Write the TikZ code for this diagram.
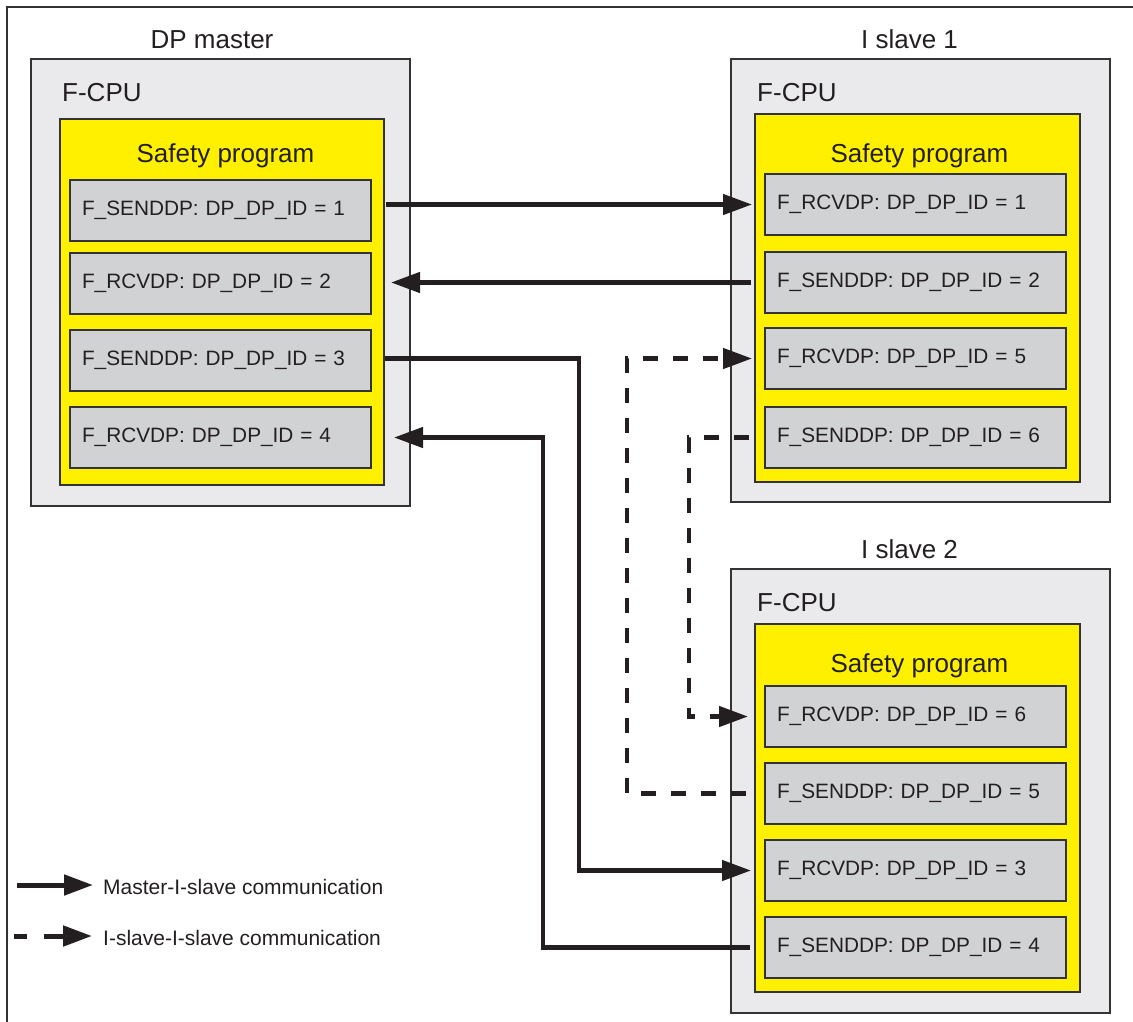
\documentclass[tikz,border=0pt]{standalone}
\usepackage{fontspec}
\setmainfont{Liberation Sans}
\usetikzlibrary{arrows.meta}
\definecolor{cpugray}{HTML}{EAEAEC}
\definecolor{progyellow}{HTML}{FFF000}
\definecolor{blockgray}{HTML}{D1D2D4}
\definecolor{edge}{HTML}{333333}
\definecolor{ink}{HTML}{231F20}

\begin{document}
\begin{tikzpicture}[x=1pt,y=-1pt,
  every node/.style={text=ink},
  frame/.style={draw=edge,line width=2pt},
  cpubox/.style={draw=edge,line width=1.5pt,fill=cpugray,anchor=north west,inner sep=0pt,outer sep=0pt},
  progbox/.style={draw=edge,line width=1.5pt,fill=progyellow,anchor=north west,inner sep=0pt,outer sep=0pt},
  block/.style={draw=edge,line width=1.5pt,fill=blockgray,anchor=north west,
    minimum height=61pt,text width=277pt,inner xsep=12pt,inner ysep=0pt,outer sep=0pt,
    align=left,font=\fontsize{20.8}{25}\selectfont},
  title/.style={inner sep=0pt,font=\fontsize{26}{30}\selectfont},
  legendtext/.style={inner sep=0pt,font=\fontsize{21}{25}\selectfont},
  solidlink/.style={draw=ink,line width=4.5pt,line cap=butt,line join=miter,
    -{Triangle[length=29pt,width=20pt]},color=ink},
  dashlink/.style={solidlink,dash pattern=on 15pt off 15pt},
]
\useasboundingbox (0,0) rectangle (1133,1021);

% outer frame (top and left edges)
\draw[frame] (7,1030) -- (7,7) -- (1140,7);

% ---------- DP master ----------
\node[cpubox,minimum width=379pt,minimum height=447pt] (mcpu) at (31,59) {};
\node[progbox,minimum width=324pt,minimum height=366pt] (mprog) at (60,119) {};
\node[title,anchor=base] (mtitle) at (212,48) {DP master};
\node[title,anchor=base west] (mcpulabel) at (62,101) {F-CPU};
\node[title,anchor=base] (mproglabel) at (225.5,162) {Safety program};
\node[block] (m1) at (70,180) {F\_SENDDP: DP\_DP\_ID = 1};
\node[block] (m2) at (70,253) {F\_RCVDP: DP\_DP\_ID = 2};
\node[block] (m3) at (70,330) {F\_SENDDP: DP\_DP\_ID = 3};
\node[block] (m4) at (70,407) {F\_RCVDP: DP\_DP\_ID = 4};

% ---------- I slave 1 ----------
\node[cpubox,minimum width=379pt,minimum height=443pt] (acpu) at (731,59) {};
\node[progbox,minimum width=325pt,minimum height=368pt] (aprog) at (755,114) {};
\node[title,anchor=base] (atitle) at (909.5,48) {I slave 1};
\node[title,anchor=base west] (acpulabel) at (757,101) {F-CPU};
\node[title,anchor=base] (aproglabel) at (919.5,162) {Safety program};
\node[block] (sa1) at (765,174) {F\_RCVDP: DP\_DP\_ID = 1};
\node[block] (sa2) at (765,252) {F\_SENDDP: DP\_DP\_ID = 2};
\node[block] (sa3) at (765,328) {F\_RCVDP: DP\_DP\_ID = 5};
\node[block] (sa4) at (765,407) {F\_SENDDP: DP\_DP\_ID = 6};

% ---------- I slave 2 ----------
\node[cpubox,minimum width=379pt,minimum height=444pt] (bcpu) at (731,569) {};
\node[progbox,minimum width=325pt,minimum height=368pt] (bprog) at (755,624) {};
\node[title,anchor=base] (btitle) at (909.5,558) {I slave 2};
\node[title,anchor=base west] (bcpulabel) at (757,611) {F-CPU};
\node[title,anchor=base] (bproglabel) at (919.5,672) {Safety program};
\node[block] (sb1) at (765,686) {F\_RCVDP: DP\_DP\_ID = 6};
\node[block] (sb2) at (765,763) {F\_SENDDP: DP\_DP\_ID = 5};
\node[block] (sb3) at (765,840) {F\_RCVDP: DP\_DP\_ID = 3};
\node[block] (sb4) at (765,917) {F\_SENDDP: DP\_DP\_ID = 4};

% ---------- connections ----------
\coordinate (v3) at (579,0);
\coordinate (v4) at (543,0);
\coordinate (v5) at (627,0);
\coordinate (v6) at (689,0);

\draw[solidlink,shorten <=15pt,shorten >=13pt] (m1.east |- sa1.west) -- (sa1.west);
\draw[solidlink,shorten <=14pt,shorten >=20pt] (sa2.west) -- (m2.east |- sa2.west);
\draw[solidlink,shorten <=14pt,shorten >=14pt] (m3.east |- sa3.west) -- (sa3.west -| v3) |- (sb3.west);
\draw[solidlink,shorten <=15pt,shorten >=23pt] (sb4.west) -- (sb4.west -| v4) |- (m4.east);
\draw[dashlink,shorten <=19pt,shorten >=13pt] (sb2.west) -- (sb2.west -| v5) |- (sa3.west);
\draw[dashlink,shorten <=16pt,shorten >=17pt] (sa4.west) -- (sa4.west -| v6) |- (sb1.west);

% ---------- legend ----------
\node[legendtext,anchor=base west] (lgA) at (103,894) {Master-I-slave communication};
\node[legendtext,anchor=base west] (lgB) at (103,945) {I-slave-I-slave communication};
\coordinate (lgAstart) at (17,885);
\coordinate (lgBstart) at (14,936);
\draw[solidlink,line width=5pt,shorten >=10pt] (lgAstart) -- (lgAstart -| lgA.west);
\draw[solidlink,line width=5pt,dash pattern=on 13pt off 17pt on 20pt off 10pt,shorten >=11pt] (lgBstart) -- (lgBstart -| lgB.west);
\end{tikzpicture}
\end{document}
